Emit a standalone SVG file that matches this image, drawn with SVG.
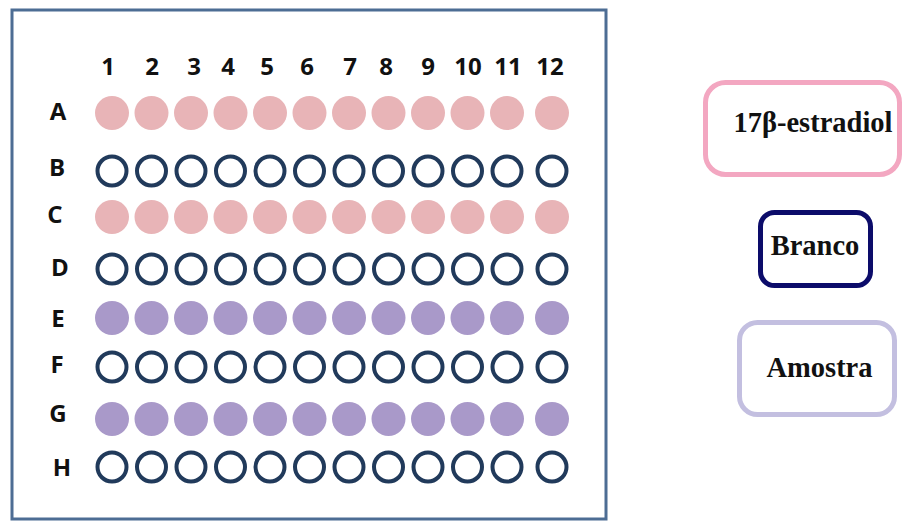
<svg xmlns="http://www.w3.org/2000/svg" xmlns:xlink="http://www.w3.org/1999/xlink" width="904" height="522" viewBox="0 0 904 522">
<style>
.num{font-family:"Open Sans","Liberation Sans",sans-serif;font-weight:bold;font-size:24px;fill:#111;text-anchor:middle}
.lbl{font-family:"Liberation Serif","Times New Roman",serif;font-weight:bold;font-size:28.5px;fill:#111;text-anchor:middle}
.pk{fill:#e8b4b7}
.pu{fill:#a999c9}
.bl{fill:#fff;stroke:#213a5b;stroke-width:4}
</style>
<defs>
<g id="rowPink" class="pk">
<circle cx="112" cy="0" r="17"/><circle cx="151.5" cy="0" r="17"/><circle cx="191" cy="0" r="17"/><circle cx="230.5" cy="0" r="17"/><circle cx="270" cy="0" r="17"/><circle cx="309.5" cy="0" r="17"/><circle cx="349" cy="0" r="17"/><circle cx="388.5" cy="0" r="17"/><circle cx="428" cy="0" r="17"/><circle cx="467.5" cy="0" r="17"/><circle cx="507" cy="0" r="17"/><circle cx="552" cy="0" r="17"/>
</g>
<g id="rowPurple" class="pu">
<circle cx="112" cy="0" r="17"/><circle cx="151.5" cy="0" r="17"/><circle cx="191" cy="0" r="17"/><circle cx="230.5" cy="0" r="17"/><circle cx="270" cy="0" r="17"/><circle cx="309.5" cy="0" r="17"/><circle cx="349" cy="0" r="17"/><circle cx="388.5" cy="0" r="17"/><circle cx="428" cy="0" r="17"/><circle cx="467.5" cy="0" r="17"/><circle cx="507" cy="0" r="17"/><circle cx="552" cy="0" r="17"/>
</g>
<g id="rowBlank" class="bl">
<circle cx="112" cy="0" r="14.5"/><circle cx="151.5" cy="0" r="14.5"/><circle cx="191" cy="0" r="14.5"/><circle cx="230.5" cy="0" r="14.5"/><circle cx="270" cy="0" r="14.5"/><circle cx="309.5" cy="0" r="14.5"/><circle cx="349" cy="0" r="14.5"/><circle cx="388.5" cy="0" r="14.5"/><circle cx="428" cy="0" r="14.5"/><circle cx="467.5" cy="0" r="14.5"/><circle cx="507" cy="0" r="14.5"/><circle cx="552" cy="0" r="14.5"/>
</g>
</defs>
<rect width="904" height="522" fill="#fff"/>
<g id="plate">
<rect x="12" y="10" width="594" height="509" fill="#fff" stroke="#4d6d94" stroke-width="3"/>
<g id="colnums" class="num">
<text x="108" y="75">1</text><text x="152" y="75">2</text><text x="194" y="75">3</text><text x="228" y="75">4</text><text x="267" y="75">5</text><text x="307" y="75">6</text><text x="350" y="75">7</text><text x="386" y="75">8</text><text x="428" y="75">9</text><text x="468" y="75">10</text><text x="508" y="75">11</text><text x="550" y="75">12</text>
</g>
<g id="rowlabels" class="num">
<text x="58" y="120">A</text><text x="57" y="176">B</text><text x="55" y="223">C</text><text x="60" y="276">D</text><text x="58" y="327">E</text><text x="57" y="373">F</text><text x="58" y="422">G</text><text x="62" y="476">H</text>
</g>
<g id="rowA"><use xlink:href="#rowPink" y="113"/></g>
<g id="rowB"><use xlink:href="#rowBlank" y="171"/></g>
<g id="rowC"><use xlink:href="#rowPink" y="217"/></g>
<g id="rowD"><use xlink:href="#rowBlank" y="269"/></g>
<g id="rowE"><use xlink:href="#rowPurple" y="318"/></g>
<g id="rowF"><use xlink:href="#rowBlank" y="367"/></g>
<g id="rowG"><use xlink:href="#rowPurple" y="419"/></g>
<g id="rowH"><use xlink:href="#rowBlank" y="467"/></g>
</g>
<g id="legend-estradiol">
<rect x="705.5" y="82.5" width="194" height="92" rx="20" fill="#fff" stroke="#f3a7c1" stroke-width="5"/>
<text class="lbl" x="813" y="132">17β-estradiol</text>
</g>
<g id="legend-branco">
<rect x="760.5" y="212.5" width="110" height="73" rx="14" fill="#fff" stroke="#0c0c6a" stroke-width="5"/>
<text class="lbl" x="815" y="255">Branco</text>
</g>
<g id="legend-amostra">
<rect x="739.5" y="322.5" width="155" height="92" rx="18" fill="#fff" stroke="#c3bfe0" stroke-width="5"/>
<text class="lbl" x="819.5" y="377">Amostra</text>
</g>
<g id="connectors"/>
</svg>
